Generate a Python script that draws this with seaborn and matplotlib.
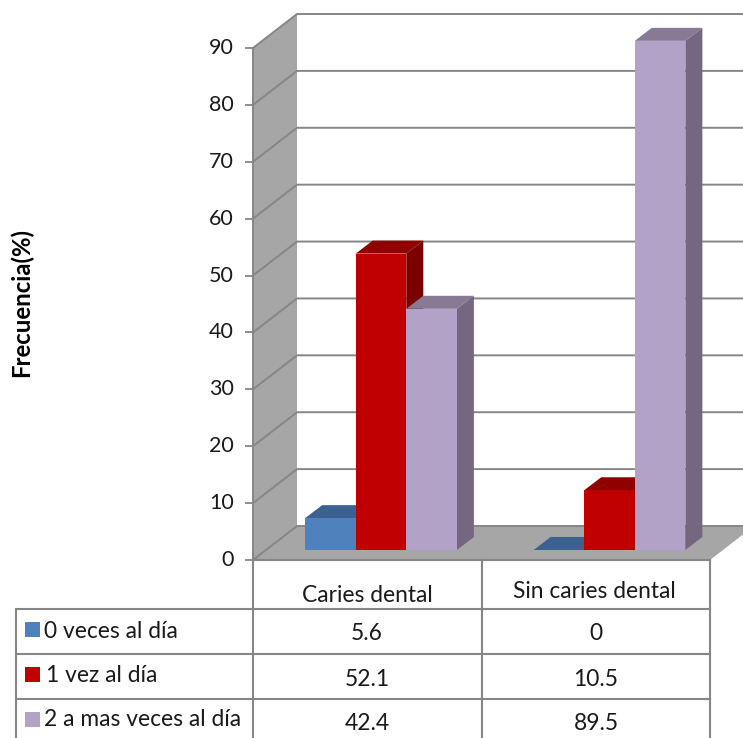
import matplotlib
matplotlib.use("Agg")
import matplotlib.pyplot as plt
from matplotlib.patches import Polygon, Rectangle
import pandas as pd
import seaborn as sns

categories = ["Caries dental", "Sin caries dental"]
series_names = ["0 veces al día", "1 vez al día", "2 a mas veces al día"]
zero_times = [5.6, 0]
one_time = [52.1, 10.5]
two_or_more = [42.4, 89.5]
y_ticks = [0, 10, 20, 30, 40, 50, 60, 70, 80, 90]

front_colors = ["#4F81BD", "#C00000", "#B2A2C7"]
top_colors = ["#3B6190", "#900000", "#867A95"]
side_colors = ["#36587F", "#7A0000", "#75677F"]
wall_color = "#A6A6A6"
line_color = "#868686"
text_color = "#1A1A1A"

W, H = 743, 738
sns.set_theme(style="white")
plt.rcParams["font.family"] = ["Lato", "DejaVu Sans"]
FONT = 16.4
TICK_FONT = 15.5


def box(left, right, top, bottom):
    """Axes rectangle from pixel edges, measured from the top-left corner."""
    return [left / W, 1 - bottom / H, (right - left) / W, (bottom - top) / H]


fig = plt.figure(figsize=(W / 100, H / 100), dpi=100, facecolor="white")

# Axis plane: value axis, side wall, floor and back-wall gridlines
ax_val = fig.add_axes(box(253, 710, 48, 560))
ax_val.set_xlim(0, 457)
ax_val.set_ylim(0, 90)
ax_val.patch.set_visible(False)
for name, spine in ax_val.spines.items():
    spine.set_visible(name == "left")
    spine.set_color(line_color)
    spine.set_linewidth(1.4)
ax_val.set_xticks([])
ax_val.set_yticks(y_ticks)
ax_val.tick_params(axis="y", length=6, width=1.3, color=line_color, pad=8,
                   labelsize=TICK_FONT, labelcolor=text_color, left=True)
for lab in ax_val.get_yticklabels():
    lab.set_verticalalignment("center")
ax_val.set_ylabel("Frecuencia(%)", fontsize=17.2, fontweight="bold", color="black")
ax_val.yaxis.set_label_coords(-0.48, 0.503)

wall_dx = 44
wall_dy = 34 * 90 / 512
ax_val.add_patch(Polygon([(0, 0), (wall_dx, wall_dy), (wall_dx, 90 + wall_dy), (0, 90)],
                         closed=True, fc=wall_color, ec="none", clip_on=False, zorder=1))
ax_val.add_patch(Polygon([(0, 0), (457, 0), (457 + wall_dx, wall_dy), (wall_dx, wall_dy)],
                         closed=True, fc=wall_color, ec="none", clip_on=False, zorder=1))
for v in y_ticks:
    ax_val.plot([0, wall_dx, 520], [v, v + wall_dy, v + wall_dy], color=line_color,
                lw=1.4, clip_on=False, zorder=1.5, solid_joinstyle="miter")

# Bar plane, set a little deeper than the axis plane
ax = fig.add_axes(box(266.75, 723.75, 38, 550))
ax.patch.set_visible(False)
df = pd.DataFrame({
    "Grupo": categories * 3,
    "Frecuencia": zero_times + one_time + two_or_more,
    "Cepillado": [s for s in series_names for _ in categories],
})
sns.barplot(data=df, x="Grupo", y="Frecuencia", hue="Cepillado", hue_order=series_names,
            order=categories, palette=front_colors, width=0.664, gap=0, saturation=1,
            dodge=True, legend=False, ax=ax, linewidth=0, zorder=3)
ax.set_xlim(-0.5, 1.5)
ax.set_ylim(0, 90)
ax.axis("off")

bar_dx = 17 / 228.5
bar_dy = 13 * 90 / 512
for h, container in enumerate(ax.containers):
    for bar in container:
        x0, w, v = bar.get_x(), bar.get_width(), bar.get_height()
        x1 = x0 + w
        bar.set_zorder(3 + h + 0.5)
        ax.add_patch(Polygon([(x0, v), (x1, v), (x1 + bar_dx, v + bar_dy), (x0 + bar_dx, v + bar_dy)],
                             closed=True, fc=top_colors[h], ec="none", clip_on=False, zorder=3 + h))
        if v > 0:
            ax.add_patch(Polygon([(x1, 0), (x1 + bar_dx, bar_dy), (x1 + bar_dx, v + bar_dy), (x1, v)],
                                 closed=True, fc=side_colors[h], ec="none", clip_on=False, zorder=3 + h))

# Data table below the plot, laid out in pixels
tab = fig.add_axes([0, 0, 1, 1], zorder=5)
tab.set_xlim(0, W)
tab.set_ylim(H, 0)
tab.axis("off")
tab.patch.set_visible(False)


def rule(xs, ys):
    tab.plot(xs, ys, color=line_color, lw=1.5, solid_capstyle="projecting")


rule([253, 710], [560, 560])
for y in (609, 654, 699):
    rule([16, 710], [y, y])
rule([16, 16], [609, 738])
rule([253, 253], [560, 738])
rule([482, 482], [560, 738])
rule([710, 710], [560, 738])

head_x = [367, 594]
head_y = [595, 591]
for x, y, name in zip(head_x, head_y, categories):
    tab.text(x, y, name, ha="center", va="center", fontsize=FONT, color=text_color)

row_y = [632, 677, 721]
swatch_y = [629.5, 674.5, 719]
label_x = [44, 46, 44]
for r, (name, vals) in enumerate(zip(series_names, [zero_times, one_time, two_or_more])):
    tab.add_patch(Rectangle((25, swatch_y[r] - 7.5), 14.5, 15, fc=front_colors[r], ec="none"))
    tab.text(label_x[r], row_y[r] - 1, name, ha="left", va="center", fontsize=FONT, color=text_color)
    tab.text(367, row_y[r] + 2, f"{vals[0]:g}", ha="center", va="center", fontsize=FONT, color=text_color)
    tab.text(596, row_y[r] + 2, f"{vals[1]:g}", ha="center", va="center", fontsize=FONT, color=text_color)

fig.savefig("out.png", dpi=100, facecolor="white")
